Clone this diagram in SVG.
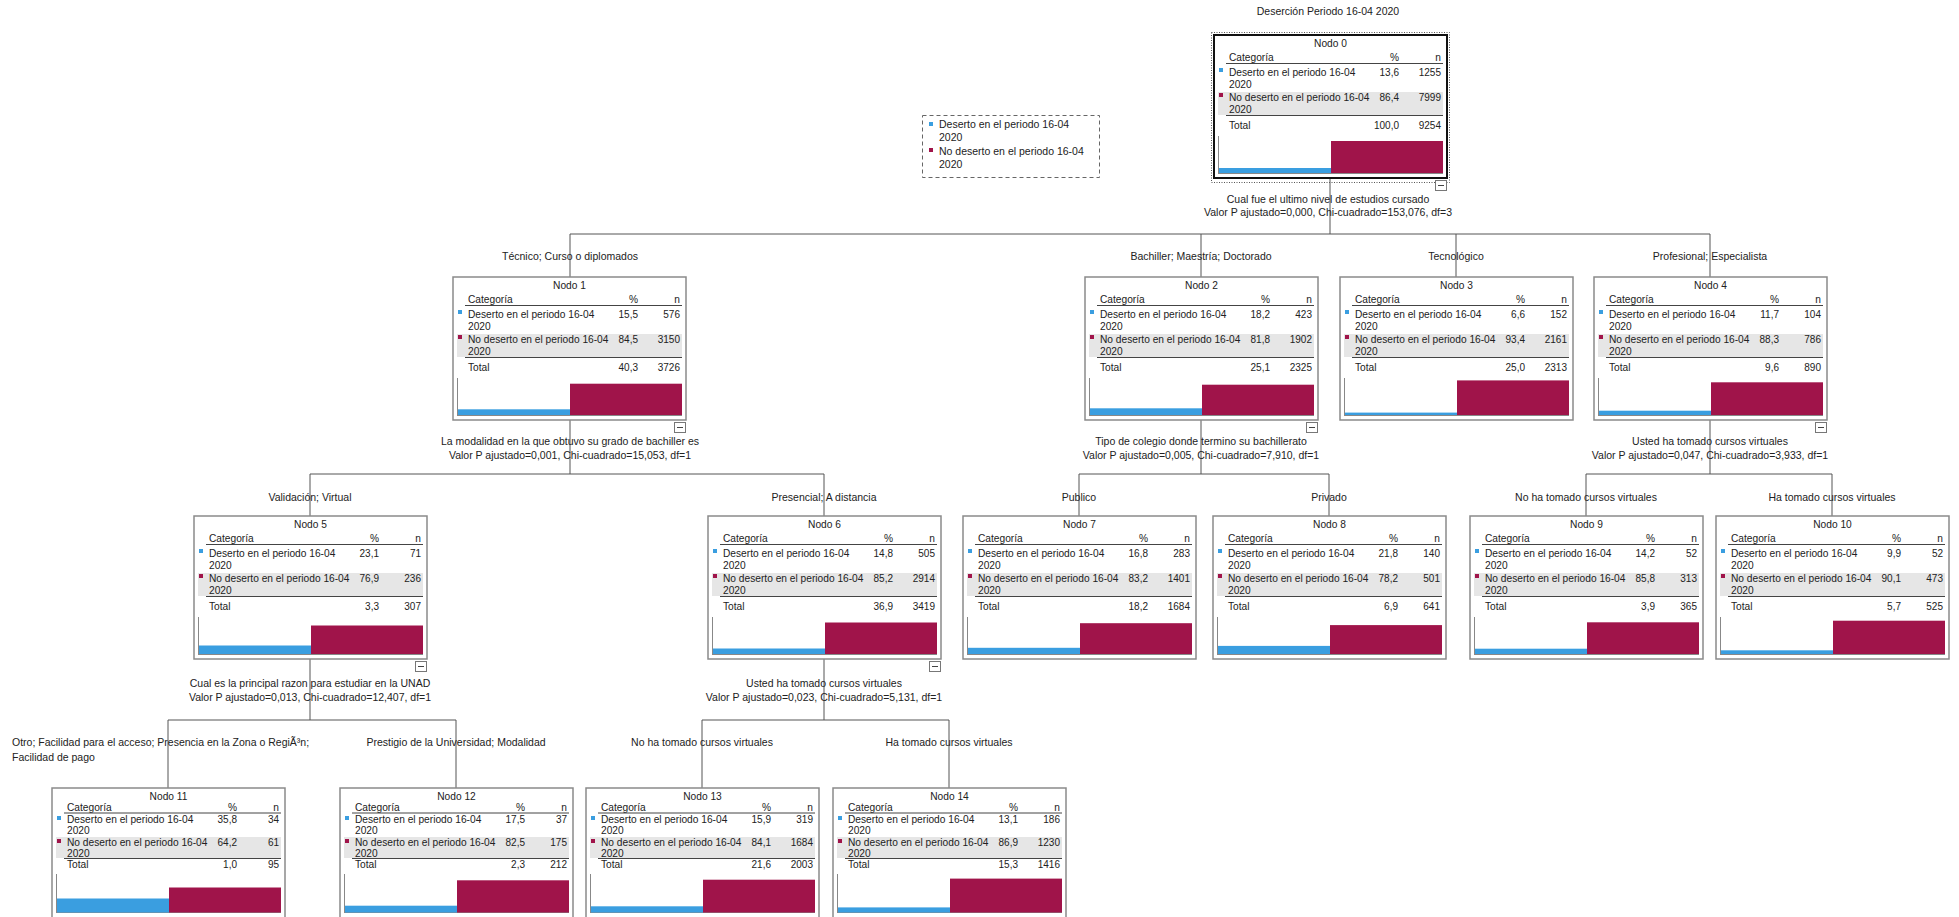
<svg xmlns="http://www.w3.org/2000/svg" xmlns:xlink="http://www.w3.org/1999/xlink" width="1959" height="917" viewBox="0 0 1959 917">
<style>
.t{font-family:"Liberation Sans",Arial,sans-serif;font-size:10.5px;fill:#222}
.s{font-size:10.2px}
.v{font-size:10px}
.c{text-anchor:middle}
.r{text-anchor:end}
.ln{stroke:#555;stroke-width:1;fill:none}
.box{fill:#fff;stroke:#8a8a8a;stroke-width:1.5}
.blue{fill:#3a9ee0}
.red{fill:#a0144a}
.row2{fill:#e6e6e6}
.hl{stroke:#444;stroke-width:1}
.ax{stroke:#888;stroke-width:1}
.col{fill:#fff;stroke:#777;stroke-width:1}
</style>
<defs>
<g id="nb">
<rect class="box" x="0" y="0" width="233" height="143"/>
<text class="t s" x="15" y="26">Categoría</text>
<text class="t s r" x="185" y="26">%</text>
<text class="t s r" x="227" y="26">n</text>
<line class="hl" x1="12" y1="28.5" x2="229" y2="28.5"/>
<rect class="blue" x="5" y="33" width="4" height="4"/>
<text class="t s" x="15" y="41">Deserto en el periodo 16-04</text>
<text class="t s" x="15" y="53">2020</text>
<rect class="row2" x="4" y="57" width="225" height="23"/>
<rect class="red" x="5" y="58" width="4" height="4"/>
<text class="t s" x="15" y="66">No deserto en el periodo 16-04</text>
<text class="t s" x="15" y="78">2020</text>
<line class="hl" x1="12" y1="80.5" x2="229" y2="80.5"/>
<text class="t s" x="15" y="94">Total</text>
<line class="ax" x1="4.5" y1="101" x2="4.5" y2="139"/>
<line class="ax" x1="4" y1="138.5" x2="229" y2="138.5"/>
</g>
<g id="nb3">
<rect class="box" x="0" y="0" width="233" height="131"/>
<text class="t s" x="15" y="22.5">Categoría</text>
<text class="t s r" x="185" y="22.5">%</text>
<text class="t s r" x="227" y="22.5">n</text>
<line class="hl" x1="12" y1="25" x2="229" y2="25"/>
<rect class="blue" x="5" y="28" width="4" height="4"/>
<text class="t s" x="15" y="34.5">Deserto en el periodo 16-04</text>
<text class="t s" x="15" y="45.5">2020</text>
<rect class="row2" x="4" y="49" width="225" height="21"/>
<rect class="red" x="5" y="51" width="4" height="4"/>
<text class="t s" x="15" y="57.5">No deserto en el periodo 16-04</text>
<text class="t s" x="15" y="68.5">2020</text>
<line class="hl" x1="12" y1="70.5" x2="229" y2="70.5"/>
<text class="t s" x="15" y="80">Total</text>
<line class="ax" x1="4.5" y1="86" x2="4.5" y2="125"/>
<line class="ax" x1="4" y1="124.5" x2="229" y2="124.5"/>
</g>
<g id="col">
<rect class="col" x="221.5" y="145.5" width="11" height="10"/>
<line class="hl" x1="224" y1="150.5" x2="230" y2="150.5"/>
</g>
</defs>
<rect width="1959" height="917" fill="#fff"/>
<text class="t c" x="1328" y="15">Deserción Periodo 16-04 2020</text>

<g id="legend">
<rect x="922.5" y="115.5" width="177" height="62" fill="#fff" stroke="#666" stroke-dasharray="4,3"/>
<rect class="blue" x="929" y="122" width="4" height="4"/>
<text class="t" x="939" y="128">Deserto en el periodo 16-04</text>
<text class="t" x="939" y="141">2020</text>
<rect class="red" x="929" y="148" width="4" height="4"/>
<text class="t" x="939" y="155">No deserto en el periodo 16-04</text>
<text class="t" x="939" y="168">2020</text>
</g>

<g id="connectors">
<path class="ln" d="M1330,178 V234 M570,234 H1710 M570,234 V277 M1201,234 V277 M1456,234 V277 M1710,234 V277"/>
<path class="ln" d="M570,420 V474 M310,474 H824 M310,474 V516 M824,474 V516"/>
<path class="ln" d="M1201,420 V474 M1079,474 H1329 M1079,474 V516 M1329,474 V516"/>
<path class="ln" d="M1710,420 V474 M1586,474 H1832 M1586,474 V516 M1832,474 V516"/>
<path class="ln" d="M310,659 V720 M168,720 H456 M168,720 V788 M456,720 V788"/>
<path class="ln" d="M824,659 V720 M702,720 H949 M702,720 V788 M949,720 V788"/>
</g>

<g id="labels">
<text class="t c" x="1328" y="203">Cual fue el ultimo nivel de estudios cursado</text>
<text class="t c" x="1328" y="216">Valor P ajustado=0,000, Chi-cuadrado=153,076, df=3</text>
<text class="t c" x="570" y="260">Técnico; Curso o diplomados</text>
<text class="t c" x="1201" y="260">Bachiller; Maestría; Doctorado</text>
<text class="t c" x="1456" y="260">Tecnológico</text>
<text class="t c" x="1710" y="260">Profesional; Especialista</text>
<text class="t c" x="570" y="445">La modalidad en la que obtuvo su grado de bachiller es</text>
<text class="t c" x="570" y="459">Valor P ajustado=0,001, Chi-cuadrado=15,053, df=1</text>
<text class="t c" x="1201" y="445">Tipo de colegio donde termino su bachillerato</text>
<text class="t c" x="1201" y="459">Valor P ajustado=0,005, Chi-cuadrado=7,910, df=1</text>
<text class="t c" x="1710" y="445">Usted ha tomado cursos virtuales</text>
<text class="t c" x="1710" y="459">Valor P ajustado=0,047, Chi-cuadrado=3,933, df=1</text>
<text class="t c" x="310" y="501">Validación; Virtual</text>
<text class="t c" x="824" y="501">Presencial; A distancia</text>
<text class="t c" x="1079" y="501">Publico</text>
<text class="t c" x="1329" y="501">Privado</text>
<text class="t c" x="1586" y="501">No ha tomado cursos virtuales</text>
<text class="t c" x="1832" y="501">Ha tomado cursos virtuales</text>
<text class="t c" x="310" y="687">Cual es la principal razon para estudiar en la UNAD</text>
<text class="t c" x="310" y="701">Valor P ajustado=0,013, Chi-cuadrado=12,407, df=1</text>
<text class="t c" x="824" y="687">Usted ha tomado cursos virtuales</text>
<text class="t c" x="824" y="701">Valor P ajustado=0,023, Chi-cuadrado=5,131, df=1</text>
<text class="t" x="12" y="746">Otro; Facilidad para el acceso; Presencia en la Zona o RegiÃ³n;</text>
<text class="t" x="12" y="761">Facilidad de pago</text>
<text class="t c" x="456" y="746">Prestigio de la Universidad; Modalidad</text>
<text class="t c" x="702" y="746">No ha tomado cursos virtuales</text>
<text class="t c" x="949" y="746">Ha tomado cursos virtuales</text>
</g>

<g id="node0" transform="translate(1214,35)">
<rect x="-2.5" y="-2.5" width="238" height="150" fill="none" stroke="#555" stroke-dasharray="1,1.5"/>
<use xlink:href="#nb"/>
<rect x="0" y="0" width="233" height="143" fill="none" stroke="#111" stroke-width="2"/>
<text class="t s c" x="116.5" y="12">Nodo 0</text>
<text class="t v r" x="185" y="41">13,6</text><text class="t v r" x="227" y="41">1255</text>
<text class="t v r" x="185" y="66">86,4</text><text class="t v r" x="227" y="66">7999</text>
<text class="t v r" x="185" y="94">100,0</text><text class="t v r" x="227" y="94">9254</text>
<rect class="blue" x="5" y="133" width="112" height="5"/>
<rect class="red" x="117" y="106" width="112" height="32"/>
<use xlink:href="#col"/>
</g>

<g id="node1" transform="translate(453,277)">
<use xlink:href="#nb"/>
<text class="t s c" x="116.5" y="12">Nodo 1</text>
<text class="t v r" x="185" y="41">15,5</text><text class="t v r" x="227" y="41">576</text>
<text class="t v r" x="185" y="66">84,5</text><text class="t v r" x="227" y="66">3150</text>
<text class="t v r" x="185" y="94">40,3</text><text class="t v r" x="227" y="94">3726</text>
<rect class="blue" x="5" y="132.3" width="112" height="5.7"/>
<rect class="red" x="117" y="106.7" width="112" height="31.3"/>
<use xlink:href="#col"/>
</g>

<g id="node2" transform="translate(1085,277)">
<use xlink:href="#nb"/>
<text class="t s c" x="116.5" y="12">Nodo 2</text>
<text class="t v r" x="185" y="41">18,2</text><text class="t v r" x="227" y="41">423</text>
<text class="t v r" x="185" y="66">81,8</text><text class="t v r" x="227" y="66">1902</text>
<text class="t v r" x="185" y="94">25,1</text><text class="t v r" x="227" y="94">2325</text>
<rect class="blue" x="5" y="131.3" width="112" height="6.7"/>
<rect class="red" x="117" y="107.7" width="112" height="30.3"/>
<use xlink:href="#col"/>
</g>

<g id="node3" transform="translate(1340,277)">
<use xlink:href="#nb"/>
<text class="t s c" x="116.5" y="12">Nodo 3</text>
<text class="t v r" x="185" y="41">6,6</text><text class="t v r" x="227" y="41">152</text>
<text class="t v r" x="185" y="66">93,4</text><text class="t v r" x="227" y="66">2161</text>
<text class="t v r" x="185" y="94">25,0</text><text class="t v r" x="227" y="94">2313</text>
<rect class="blue" x="5" y="135.6" width="112" height="2.4"/>
<rect class="red" x="117" y="103.4" width="112" height="34.6"/>
</g>

<g id="node4" transform="translate(1594,277)">
<use xlink:href="#nb"/>
<text class="t s c" x="116.5" y="12">Nodo 4</text>
<text class="t v r" x="185" y="41">11,7</text><text class="t v r" x="227" y="41">104</text>
<text class="t v r" x="185" y="66">88,3</text><text class="t v r" x="227" y="66">786</text>
<text class="t v r" x="185" y="94">9,6</text><text class="t v r" x="227" y="94">890</text>
<rect class="blue" x="5" y="133.7" width="112" height="4.3"/>
<rect class="red" x="117" y="105.3" width="112" height="32.7"/>
<use xlink:href="#col"/>
</g>

<g id="node5" transform="translate(194,516)">
<use xlink:href="#nb"/>
<text class="t s c" x="116.5" y="12">Nodo 5</text>
<text class="t v r" x="185" y="41">23,1</text><text class="t v r" x="227" y="41">71</text>
<text class="t v r" x="185" y="66">76,9</text><text class="t v r" x="227" y="66">236</text>
<text class="t v r" x="185" y="94">3,3</text><text class="t v r" x="227" y="94">307</text>
<rect class="blue" x="5" y="129.5" width="112" height="8.5"/>
<rect class="red" x="117" y="109.5" width="112" height="28.5"/>
<use xlink:href="#col"/>
</g>

<g id="node6" transform="translate(708,516)">
<use xlink:href="#nb"/>
<text class="t s c" x="116.5" y="12">Nodo 6</text>
<text class="t v r" x="185" y="41">14,8</text><text class="t v r" x="227" y="41">505</text>
<text class="t v r" x="185" y="66">85,2</text><text class="t v r" x="227" y="66">2914</text>
<text class="t v r" x="185" y="94">36,9</text><text class="t v r" x="227" y="94">3419</text>
<rect class="blue" x="5" y="132.5" width="112" height="5.5"/>
<rect class="red" x="117" y="106.5" width="112" height="31.5"/>
<use xlink:href="#col"/>
</g>

<g id="node7" transform="translate(963,516)">
<use xlink:href="#nb"/>
<text class="t s c" x="116.5" y="12">Nodo 7</text>
<text class="t v r" x="185" y="41">16,8</text><text class="t v r" x="227" y="41">283</text>
<text class="t v r" x="185" y="66">83,2</text><text class="t v r" x="227" y="66">1401</text>
<text class="t v r" x="185" y="94">18,2</text><text class="t v r" x="227" y="94">1684</text>
<rect class="blue" x="5" y="131.8" width="112" height="6.2"/>
<rect class="red" x="117" y="107.2" width="112" height="30.8"/>
</g>

<g id="node8" transform="translate(1213,516)">
<use xlink:href="#nb"/>
<text class="t s c" x="116.5" y="12">Nodo 8</text>
<text class="t v r" x="185" y="41">21,8</text><text class="t v r" x="227" y="41">140</text>
<text class="t v r" x="185" y="66">78,2</text><text class="t v r" x="227" y="66">501</text>
<text class="t v r" x="185" y="94">6,9</text><text class="t v r" x="227" y="94">641</text>
<rect class="blue" x="5" y="129.9" width="112" height="8.1"/>
<rect class="red" x="117" y="109.1" width="112" height="28.9"/>
</g>

<g id="node9" transform="translate(1470,516)">
<use xlink:href="#nb"/>
<text class="t s c" x="116.5" y="12">Nodo 9</text>
<text class="t v r" x="185" y="41">14,2</text><text class="t v r" x="227" y="41">52</text>
<text class="t v r" x="185" y="66">85,8</text><text class="t v r" x="227" y="66">313</text>
<text class="t v r" x="185" y="94">3,9</text><text class="t v r" x="227" y="94">365</text>
<rect class="blue" x="5" y="132.7" width="112" height="5.3"/>
<rect class="red" x="117" y="106.3" width="112" height="31.7"/>
</g>

<g id="node10" transform="translate(1716,516)">
<use xlink:href="#nb"/>
<text class="t s c" x="116.5" y="12">Nodo 10</text>
<text class="t v r" x="185" y="41">9,9</text><text class="t v r" x="227" y="41">52</text>
<text class="t v r" x="185" y="66">90,1</text><text class="t v r" x="227" y="66">473</text>
<text class="t v r" x="185" y="94">5,7</text><text class="t v r" x="227" y="94">525</text>
<rect class="blue" x="5" y="134.3" width="112" height="3.7"/>
<rect class="red" x="117" y="104.7" width="112" height="33.3"/>
</g>

<g id="node11" transform="translate(52,788)">
<use xlink:href="#nb3"/>
<text class="t s c" x="116.5" y="12">Nodo 11</text>
<text class="t v r" x="185" y="34.5">35,8</text><text class="t v r" x="227" y="34.5">34</text>
<text class="t v r" x="185" y="57.5">64,2</text><text class="t v r" x="227" y="57.5">61</text>
<text class="t v r" x="185" y="80">1,0</text><text class="t v r" x="227" y="80">95</text>
<rect class="blue" x="5" y="110.5" width="112" height="14"/>
<rect class="red" x="117" y="99.5" width="112" height="25"/>
</g>

<g id="node12" transform="translate(340,788)">
<use xlink:href="#nb3"/>
<text class="t s c" x="116.5" y="12">Nodo 12</text>
<text class="t v r" x="185" y="34.5">17,5</text><text class="t v r" x="227" y="34.5">37</text>
<text class="t v r" x="185" y="57.5">82,5</text><text class="t v r" x="227" y="57.5">175</text>
<text class="t v r" x="185" y="80">2,3</text><text class="t v r" x="227" y="80">212</text>
<rect class="blue" x="5" y="117.7" width="112" height="6.8"/>
<rect class="red" x="117" y="92.3" width="112" height="32.2"/>
</g>

<g id="node13" transform="translate(586,788)">
<use xlink:href="#nb3"/>
<text class="t s c" x="116.5" y="12">Nodo 13</text>
<text class="t v r" x="185" y="34.5">15,9</text><text class="t v r" x="227" y="34.5">319</text>
<text class="t v r" x="185" y="57.5">84,1</text><text class="t v r" x="227" y="57.5">1684</text>
<text class="t v r" x="185" y="80">21,6</text><text class="t v r" x="227" y="80">2003</text>
<rect class="blue" x="5" y="118.3" width="112" height="6.2"/>
<rect class="red" x="117" y="91.7" width="112" height="32.8"/>
</g>

<g id="node14" transform="translate(833,788)">
<use xlink:href="#nb3"/>
<text class="t s c" x="116.5" y="12">Nodo 14</text>
<text class="t v r" x="185" y="34.5">13,1</text><text class="t v r" x="227" y="34.5">186</text>
<text class="t v r" x="185" y="57.5">86,9</text><text class="t v r" x="227" y="57.5">1230</text>
<text class="t v r" x="185" y="80">15,3</text><text class="t v r" x="227" y="80">1416</text>
<rect class="blue" x="5" y="119.4" width="112" height="5.1"/>
<rect class="red" x="117" y="90.6" width="112" height="33.9"/>
</g>
</svg>
